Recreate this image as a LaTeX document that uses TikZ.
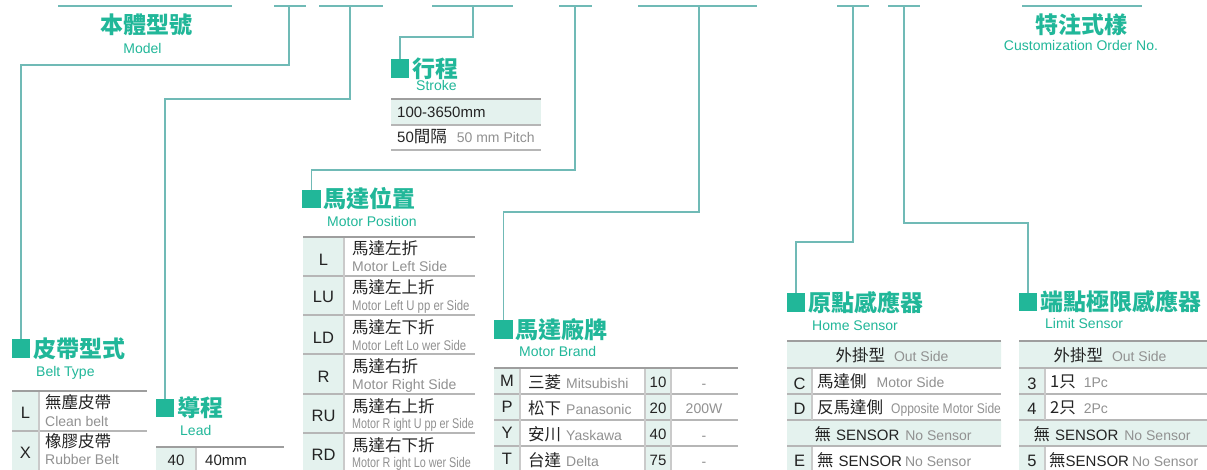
\documentclass[tikz,border=0pt]{standalone}
\usepackage{fontspec}
\setmainfont{Liberation Sans}
\newfontfamily\hanfont{Noto Sans CJK TC}
\usetikzlibrary{positioning}

\definecolor{leadcol}{RGB}{112,186,182}
\definecolor{markgreen}{RGB}{33,183,153}
\definecolor{cellbg}{RGB}{228,242,238}
\definecolor{ink}{RGB}{35,35,35}
\definecolor{txtgray}{RGB}{145,145,145}
\definecolor{rulegray}{RGB}{158,158,158}

\newcommand\zhtxt[1]{{\hanfont\fontsize{16.5}{18}\selectfont #1}}
\newcommand\entxt[1]{{\fontsize{14}{16}\selectfont\color{txtgray}#1}}

\begin{document}
\begin{tikzpicture}[
    x=1pt, y=-1pt,
    bar/.style={draw=leadcol, line width=1.3pt},
    lead/.style={draw=leadcol, line width=1.3pt},
    badge/.style={fill=markgreen, minimum size=18.5pt, inner sep=0pt},
    headtext/.style={text=markgreen, font=\hanfont\bfseries\fontsize{23}{25}\selectfont, inner sep=0pt},
    subtitle/.style={text=markgreen, font=\fontsize{14}{15}\selectfont, inner sep=0pt, anchor=base west},
    topline/.style={draw=rulegray, line width=1.8pt},
    rowline/.style={draw=rulegray!75, line width=1.3pt},
    colline/.style={draw=rulegray!55, line width=1.3pt},
    codetxt/.style={text=ink, font=\fontsize{16.5}{18}\selectfont, inner sep=0pt},
    celltxt/.style={text=ink, font=\fontsize{15}{17}\selectfont, inner sep=0pt, anchor=base west}
]
\useasboundingbox[fill=white] (0,0) rectangle (1207,470);

% Top bar
\draw[bar] (58,6) -- (232,6);
\draw[bar] (274,6) -- (306,6);
\draw[bar] (319,6) -- (383,6);
\draw[bar] (432,6) -- (513,6);
\draw[bar] (559,6) -- (592,6);
\draw[bar] (638,6) -- (757,6);
\draw[bar] (837,6) -- (869,6);
\draw[bar] (888,6) -- (920,6);
\draw[bar] (1022,6) -- (1142,6);
\coordinate (tapBelt) at (289,6);
\coordinate (tapLead) at (350,6);
\coordinate (tapStroke) at (473,6);
\coordinate (tapPos) at (575,6);
\coordinate (tapBrand) at (699,6);
\coordinate (tapHome) at (853,6);
\coordinate (tapLimit) at (904,6);

\node[headtext] (model) at (146,25) {本體型號};
\node[subtitle, anchor=base] (modelEn) at (142.5,54) {Model};
\node[headtext] (custom) at (1081.5,25) {特注式樣};
\node[subtitle, anchor=base] (customEn) at (1081,51) {Customization Order No.};

% Headings
\node[badge] (sqBelt) at (21,348.5) {};
\node[headtext, right=2.5pt of sqBelt] (belt) {皮帶型式};
\node[subtitle] (beltEn) at (36,376) {Belt Type};

\node[badge] (sqLead) at (165,408) {};
\node[headtext, right=2.5pt of sqLead] (lead) {導程};
\node[subtitle] (leadEn) at (180,435) {Lead};

\node[badge] (sqStroke) at (400,68.5) {};
\node[headtext, right=2.5pt of sqStroke] (stroke) {行程};
\node[subtitle] (strokeEn) at (416,91) {Stroke};

\node[badge] (sqPos) at (311.5,199) {};
\node[headtext, right=2.5pt of sqPos] (pos) {馬達位置};
\node[subtitle] (posEn) at (327,227) {Motor Position};

\node[badge] (sqBrand) at (503.5,329.5) {};
\node[headtext, right=2.5pt of sqBrand] (brand) {馬達廠牌};
\node[subtitle] (brandEn) at (519,356) {Motor Brand};

\node[badge] (sqHome) at (796,302.5) {};
\node[headtext, right=2.5pt of sqHome] (home) {原點感應器};
\node[subtitle] (homeEn) at (812,330) {Home Sensor};

\node[badge] (sqLimit) at (1028,302) {};
\node[headtext, right=2.5pt of sqLimit] (limit) {端點極限感應器};
\node[subtitle] (limitEn) at (1045,328) {Limit Sensor};

% Leaders
\draw[lead] (tapBelt) -- ++(0,59) -| (sqBelt.north);
\draw[lead] (tapLead) -- ++(0,93) -| (sqLead.north);
\draw[lead] (tapStroke) -- ++(0,31) -| (sqStroke.north);
\draw[lead] (tapPos) -- ++(0,164) -| (sqPos.north);
\draw[lead] (tapBrand) -- ++(0,206) -| (sqBrand.north);
\draw[lead] (tapHome) -- ++(0,236) -| (sqHome.north);
\draw[lead] (tapLimit) -- ++(0,217) -| (sqLimit.north);

% Belt type table
\fill[cellbg] (12,391) rectangle (39,470);
\draw[topline] (12,391) -- (147,391);
\draw[rowline] (12,431) -- (147,431);
\draw[colline] (39,392) -- (39,470);
\node[codetxt] (bL) at (25.5,412.5) {L};
\node[celltxt] (bL1) at (45,408) {\zhtxt{無塵皮帶}};
\node[celltxt] (bL2) at (45,426) {\entxt{Clean belt}};
\node[codetxt] (bX) at (25.5,453) {X};
\node[celltxt] (bX1) at (45,447) {\zhtxt{橡膠皮帶}};
\node[celltxt] (bX2) at (45,464) {\entxt{Rubber Belt}};

% Lead table
\fill[cellbg] (156,447) rectangle (196,470);
\draw[topline] (156,447) -- (284,447);
\draw[colline] (196,448) -- (196,470);
\node[celltxt, anchor=base] (l40) at (176,465) {40};
\node[celltxt] (l40mm) at (205,465) {40mm};

% Stroke table
\fill[cellbg] (391,99) rectangle (541,125);
\draw[topline] (391,99) -- (541,99);
\draw[rowline] (391,125) -- (541,125) (391,150) -- (541,150);
\node[celltxt] (s1) at (397,118) {100-3650mm};
\node[celltxt] (s2) at (397,143) {50\zhtxt{間隔}\hspace{10pt}\entxt{50 mm Pitch}};

% Motor position table
\fill[cellbg] (303,237) rectangle (344,470);
\draw[topline] (303,237) -- (475,237);
\draw[rowline] (303,276) -- (475,276) (303,315) -- (475,315) (303,354) -- (475,354)
    (303,394) -- (475,394) (303,433) -- (475,433);
\draw[colline] (344,238) -- (344,470);
\node[codetxt] (pL) at (323.5,260) {L};
\node[celltxt] (pL1) at (352,255) {\zhtxt{馬達左折}};
\node[celltxt] (pL2) at (352,272) {\entxt{Motor Left Side}};
\node[codetxt] (pLU) at (323.5,297) {LU};
\node[celltxt] (pLU1) at (352,294) {\zhtxt{馬達左上折}};
\node[celltxt] (pLU2) at (352,310) {\entxt{\scalebox{0.81}[1]{Motor Left U pp er Side}}};
\node[codetxt] (pLD) at (323.5,338) {LD};
\node[celltxt] (pLD1) at (352,333) {\zhtxt{馬達左下折}};
\node[celltxt] (pLD2) at (352,350) {\entxt{\scalebox{0.81}[1]{Motor Left Lo wer Side}}};
\node[codetxt] (pR) at (323.5,377) {R};
\node[celltxt] (pR1) at (352,372) {\zhtxt{馬達右折}};
\node[celltxt] (pR2) at (352,389) {\entxt{Motor Right Side}};
\node[codetxt] (pRU) at (323.5,416) {RU};
\node[celltxt] (pRU1) at (352,412) {\zhtxt{馬達右上折}};
\node[celltxt] (pRU2) at (352,428) {\entxt{\scalebox{0.77}[1]{Motor R ight U pp er Side}}};
\node[codetxt] (pRD) at (323.5,455) {RD};
\node[celltxt] (pRD1) at (352,451) {\zhtxt{馬達右下折}};
\node[celltxt] (pRD2) at (352,467) {\entxt{\scalebox{0.77}[1]{Motor R ight Lo wer Side}}};

% Motor brand table
\fill[cellbg] (494,368) rectangle (520,470) (645,368) rectangle (671,470);
\draw[topline] (494,368) -- (738,368);
\draw[rowline] (494,394) -- (738,394) (494,420) -- (738,420) (494,446) -- (738,446);
\draw[colline] (520,369) -- (520,470) (645,369) -- (645,470) (671,369) -- (671,470);
\node[codetxt] (mM) at (507,381) {M};
\node[celltxt] (mM1) at (528,388) {\zhtxt{三菱}\hspace{5pt}\entxt{Mitsubishi}};
\node[codetxt] (mP) at (507,407) {P};
\node[celltxt] (mP1) at (528,414) {\zhtxt{松下}\hspace{5pt}\entxt{Panasonic}};
\node[codetxt] (mY) at (507,433) {Y};
\node[celltxt] (mY1) at (528,440) {\zhtxt{安川}\hspace{5pt}\entxt{Yaskawa}};
\node[codetxt] (mT) at (507,459) {T};
\node[celltxt] (mT1) at (528,466) {\zhtxt{台達}\hspace{5pt}\entxt{Delta}};
\node[celltxt, anchor=base] (w10) at (658,387) {10};
\node[celltxt, anchor=base] (w20) at (658,413) {20};
\node[celltxt, anchor=base] (w40) at (658,439) {40};
\node[celltxt, anchor=base] (w75) at (658,465) {75};
\node[celltxt, anchor=base] (r10) at (704,388) {\entxt{-}};
\node[celltxt, anchor=base] (r20) at (704,413) {\entxt{200W}};
\node[celltxt, anchor=base] (r40) at (704,440) {\entxt{-}};
\node[celltxt, anchor=base] (r75) at (704,466) {\entxt{-}};

% Home sensor table
\fill[cellbg] (787,341) rectangle (1001,368) (787,420) rectangle (1001,446)
    (787,368) rectangle (812,420) (787,446) rectangle (812,470);
\draw[topline] (787,341) -- (1001,341);
\draw[rowline] (787,368) -- (1001,368) (787,394) -- (1001,394) (787,420) -- (1001,420)
    (787,446) -- (1001,446);
\draw[colline] (812,369) -- (812,420) (812,447) -- (812,470);
\node[celltxt, anchor=base] (hOut) at (892,361) {\zhtxt{外掛型}\hspace{9pt}\entxt{Out Side}};
\node[codetxt] (hC) at (799.5,383.5) {C};
\node[celltxt] (hC1) at (817,387) {\zhtxt{馬達側}\hspace{10pt}\entxt{Motor Side}};
\node[codetxt] (hD) at (799.5,409) {D};
\node[celltxt] (hD1) at (817,413) {\zhtxt{反馬達側}\hspace{8pt}\entxt{\scalebox{0.86}[1]{Opposite Motor Side}}};
\node[celltxt, anchor=base] (hNone) at (893,440) {\zhtxt{無}\hspace{5pt}SENSOR\hspace{6pt}\entxt{No Sensor}};
\node[codetxt] (hE) at (799.5,461) {E};
\node[celltxt] (hE1) at (817,466) {\zhtxt{無}\hspace{5pt}SENSOR\hspace{3pt}\entxt{No Sensor}};

% Limit sensor table
\fill[cellbg] (1019,341) rectangle (1207,368) (1019,420) rectangle (1207,446)
    (1019,368) rectangle (1045,420) (1019,446) rectangle (1045,470);
\draw[topline] (1019,341) -- (1207,341);
\draw[rowline] (1019,368) -- (1207,368) (1019,394) -- (1207,394) (1019,420) -- (1207,420)
    (1019,446) -- (1207,446);
\draw[colline] (1045,369) -- (1045,420) (1045,447) -- (1045,470);
\node[celltxt, anchor=base] (kOut) at (1110,361) {\zhtxt{外掛型}\hspace{9pt}\entxt{Out Side}};
\node[codetxt] (k3) at (1032,383.5) {3};
\node[celltxt] (k31) at (1050,387) {\zhtxt{1只}\hspace{8pt}\entxt{1Pc}};
\node[codetxt] (k4) at (1032,409) {4};
\node[celltxt] (k41) at (1050,413) {\zhtxt{2只}\hspace{8pt}\entxt{2Pc}};
\node[celltxt, anchor=base] (kNone) at (1112,440) {\zhtxt{無}\hspace{5pt}SENSOR\hspace{6pt}\entxt{No Sensor}};
\node[codetxt] (k5) at (1032,461) {5};
\node[celltxt] (k51) at (1049,466) {\zhtxt{無}SENSOR\hspace{3pt}\entxt{No Sensor}};
\end{tikzpicture}
\end{document}
